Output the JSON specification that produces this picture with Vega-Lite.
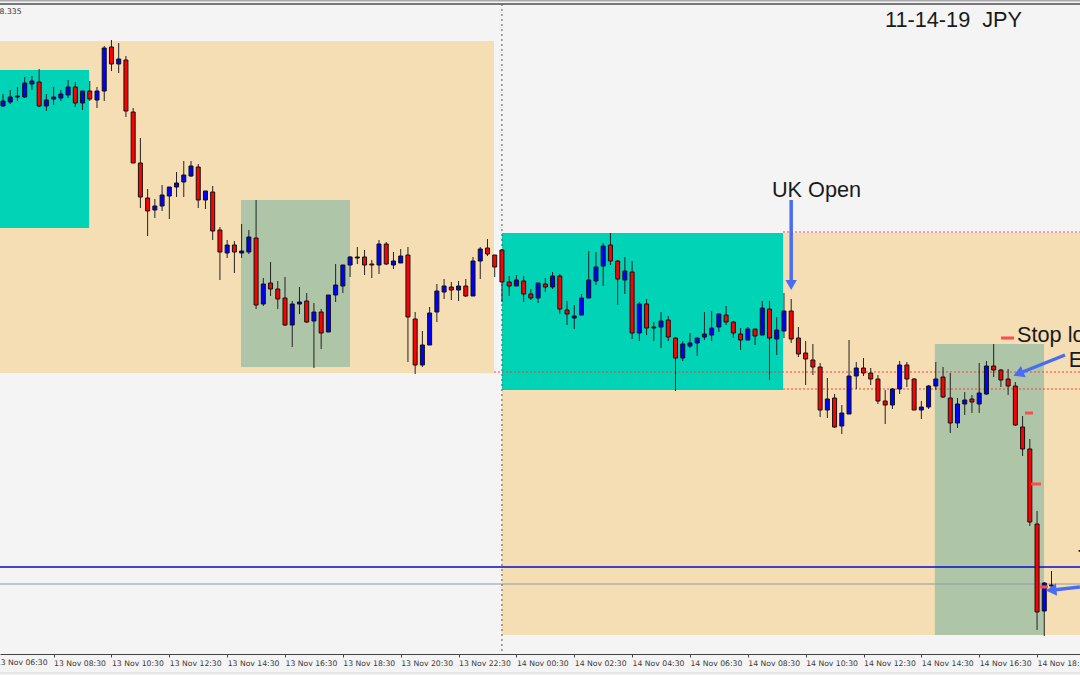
{
  "$schema": "https://vega.github.io/schema/vega-lite/v6.json",
  "width": 1080,
  "height": 654,
  "padding": {"left": 0, "top": 0, "right": 0, "bottom": 21},
  "autosize": {"type": "none"},
  "background": "#f4f4f4",
  "config": {"view": {"stroke": null}},
  "datasets": {
    "zones": [
      {"t1": "2019-11-13T06:00Z", "t2": "2019-11-13T23:43:30Z", "top": 108.959, "bottom": 108.627, "zone": "range"},
      {"t1": "2019-11-13T06:00Z", "t2": "2019-11-13T09:43:24Z", "top": 108.93, "bottom": 108.772, "zone": "asia"},
      {"t1": "2019-11-13T14:58:42Z", "t2": "2019-11-13T18:44:48Z", "top": 108.8, "bottom": 108.633, "zone": "ny"},
      {"t1": "2019-11-14T00:00:06Z", "t2": "2019-11-14T20:30Z", "top": 108.767, "bottom": 108.365, "zone": "range"},
      {"t1": "2019-11-14T00:00:06Z", "t2": "2019-11-14T09:43Z", "top": 108.767, "bottom": 108.61, "zone": "asia"},
      {"t1": "2019-11-14T14:58Z", "t2": "2019-11-14T18:44:30Z", "top": 108.656, "bottom": 108.365, "zone": "ny"}
    ],
    "levels": [
      {"t1": "2019-11-13T06:00Z", "t2": "2019-11-14T20:30Z", "p": 108.433, "kind": "blue"},
      {"t1": "2019-11-13T06:00Z", "t2": "2019-11-14T20:30Z", "p": 108.416, "kind": "gray"},
      {"t1": "2019-11-13T23:43:30Z", "t2": "2019-11-14T20:30Z", "p": 108.628, "kind": "red"},
      {"t1": "2019-11-14T09:43Z", "t2": "2019-11-14T20:30Z", "p": 108.611, "kind": "red"},
      {"t1": "2019-11-14T09:43Z", "t2": "2019-11-14T20:30Z", "p": 108.768, "kind": "red"},
      {"t1": "2019-11-13T06:00Z", "t2": "2019-11-14T20:30Z", "p": 108.9995, "kind": "frame1"},
      {"t1": "2019-11-13T06:00Z", "t2": "2019-11-14T20:30Z", "p": 108.996, "kind": "frame2"},
      {"t1": "2019-11-13T06:00Z", "t2": "2019-11-14T20:30Z", "p": 108.327, "kind": "frame3"}
    ],
    "stops": [
      {"t1": "2019-11-14T17:15:18Z", "t2": "2019-11-14T17:42:12Z", "p": 108.662},
      {"t1": "2019-11-14T18:05Z", "t2": "2019-11-14T18:21:36Z", "p": 108.587},
      {"t1": "2019-11-14T18:17:30Z", "t2": "2019-11-14T18:38:12Z", "p": 108.516},
      {"t1": "2019-11-14T18:36:12Z", "t2": "2019-11-14T18:52:42Z", "p": 108.413}
    ],
    "labels": [
      {"t": "2019-11-14T09:20Z", "p": 108.81, "text": "UK Open"},
      {"t": "2019-11-14T13:14:36Z", "p": 108.98, "text": "11-14-19\u00a0\u00a0JPY"},
      {"t": "2019-11-14T17:48:24Z", "p": 108.665, "text": "Stop loss"},
      {"t": "2019-11-14T19:36Z", "p": 108.64, "text": "Entry"},
      {"t": "2019-11-14T19:55Z", "p": 108.442, "text": "T"}
    ],
    "candles": [
      {"t":"2019-11-13T06:45Z","o":108.894,"h":108.906,"l":108.893,"c":108.899},
      {"t":"2019-11-13T07:00Z","o":108.898,"h":108.910,"l":108.896,"c":108.903},
      {"t":"2019-11-13T07:15Z","o":108.903,"h":108.913,"l":108.899,"c":108.904},
      {"t":"2019-11-13T07:30Z","o":108.903,"h":108.923,"l":108.902,"c":108.917},
      {"t":"2019-11-13T07:45Z","o":108.916,"h":108.924,"l":108.910,"c":108.919},
      {"t":"2019-11-13T08:00Z","o":108.918,"h":108.931,"l":108.893,"c":108.894},
      {"t":"2019-11-13T08:15Z","o":108.894,"h":108.906,"l":108.889,"c":108.900},
      {"t":"2019-11-13T08:30Z","o":108.901,"h":108.913,"l":108.895,"c":108.903},
      {"t":"2019-11-13T08:45Z","o":108.902,"h":108.910,"l":108.899,"c":108.906},
      {"t":"2019-11-13T09:00Z","o":108.905,"h":108.920,"l":108.902,"c":108.913},
      {"t":"2019-11-13T09:15Z","o":108.913,"h":108.918,"l":108.893,"c":108.897},
      {"t":"2019-11-13T09:30Z","o":108.897,"h":108.909,"l":108.890,"c":108.909},
      {"t":"2019-11-13T09:45Z","o":108.909,"h":108.919,"l":108.899,"c":108.901},
      {"t":"2019-11-13T10:00Z","o":108.900,"h":108.913,"l":108.892,"c":108.909},
      {"t":"2019-11-13T10:15Z","o":108.909,"h":108.954,"l":108.899,"c":108.952},
      {"t":"2019-11-13T10:30Z","o":108.953,"h":108.960,"l":108.929,"c":108.936},
      {"t":"2019-11-13T10:45Z","o":108.936,"h":108.957,"l":108.927,"c":108.941},
      {"t":"2019-11-13T11:00Z","o":108.940,"h":108.944,"l":108.883,"c":108.889},
      {"t":"2019-11-13T11:15Z","o":108.888,"h":108.892,"l":108.837,"c":108.837},
      {"t":"2019-11-13T11:30Z","o":108.837,"h":108.862,"l":108.792,"c":108.803},
      {"t":"2019-11-13T11:45Z","o":108.802,"h":108.811,"l":108.764,"c":108.789},
      {"t":"2019-11-13T12:00Z","o":108.790,"h":108.801,"l":108.782,"c":108.794},
      {"t":"2019-11-13T12:15Z","o":108.794,"h":108.815,"l":108.789,"c":108.805},
      {"t":"2019-11-13T12:30Z","o":108.804,"h":108.813,"l":108.781,"c":108.813},
      {"t":"2019-11-13T12:45Z","o":108.813,"h":108.828,"l":108.803,"c":108.817},
      {"t":"2019-11-13T13:00Z","o":108.818,"h":108.839,"l":108.803,"c":108.825},
      {"t":"2019-11-13T13:15Z","o":108.824,"h":108.839,"l":108.823,"c":108.834},
      {"t":"2019-11-13T13:30Z","o":108.833,"h":108.836,"l":108.792,"c":108.800},
      {"t":"2019-11-13T13:45Z","o":108.800,"h":108.809,"l":108.791,"c":108.809},
      {"t":"2019-11-13T14:00Z","o":108.808,"h":108.814,"l":108.760,"c":108.769},
      {"t":"2019-11-13T14:15Z","o":108.770,"h":108.773,"l":108.720,"c":108.748},
      {"t":"2019-11-13T14:30Z","o":108.747,"h":108.760,"l":108.742,"c":108.755},
      {"t":"2019-11-13T14:45Z","o":108.755,"h":108.759,"l":108.727,"c":108.748},
      {"t":"2019-11-13T15:00Z","o":108.747,"h":108.776,"l":108.742,"c":108.749},
      {"t":"2019-11-13T15:15Z","o":108.748,"h":108.770,"l":108.746,"c":108.763},
      {"t":"2019-11-13T15:30Z","o":108.762,"h":108.800,"l":108.691,"c":108.695},
      {"t":"2019-11-13T15:45Z","o":108.696,"h":108.722,"l":108.694,"c":108.716},
      {"t":"2019-11-13T16:00Z","o":108.717,"h":108.738,"l":108.704,"c":108.711},
      {"t":"2019-11-13T16:15Z","o":108.711,"h":108.719,"l":108.691,"c":108.701},
      {"t":"2019-11-13T16:30Z","o":108.702,"h":108.723,"l":108.674,"c":108.675},
      {"t":"2019-11-13T16:45Z","o":108.675,"h":108.699,"l":108.653,"c":108.696},
      {"t":"2019-11-13T17:00Z","o":108.696,"h":108.713,"l":108.686,"c":108.698},
      {"t":"2019-11-13T17:15Z","o":108.699,"h":108.707,"l":108.677,"c":108.678},
      {"t":"2019-11-13T17:30Z","o":108.679,"h":108.697,"l":108.632,"c":108.688},
      {"t":"2019-11-13T17:45Z","o":108.688,"h":108.691,"l":108.651,"c":108.667},
      {"t":"2019-11-13T18:00Z","o":108.668,"h":108.705,"l":108.668,"c":108.705},
      {"t":"2019-11-13T18:15Z","o":108.705,"h":108.736,"l":108.698,"c":108.715},
      {"t":"2019-11-13T18:30Z","o":108.714,"h":108.735,"l":108.707,"c":108.735},
      {"t":"2019-11-13T18:45Z","o":108.735,"h":108.744,"l":108.723,"c":108.743},
      {"t":"2019-11-13T19:00Z","o":108.742,"h":108.753,"l":108.736,"c":108.743},
      {"t":"2019-11-13T19:15Z","o":108.743,"h":108.750,"l":108.725,"c":108.735},
      {"t":"2019-11-13T19:30Z","o":108.736,"h":108.740,"l":108.722,"c":108.735},
      {"t":"2019-11-13T19:45Z","o":108.735,"h":108.760,"l":108.726,"c":108.756},
      {"t":"2019-11-13T20:00Z","o":108.756,"h":108.758,"l":108.735,"c":108.736},
      {"t":"2019-11-13T20:15Z","o":108.735,"h":108.748,"l":108.731,"c":108.739},
      {"t":"2019-11-13T20:30Z","o":108.737,"h":108.751,"l":108.737,"c":108.744},
      {"t":"2019-11-13T20:45Z","o":108.745,"h":108.753,"l":108.638,"c":108.683},
      {"t":"2019-11-13T21:00Z","o":108.681,"h":108.688,"l":108.626,"c":108.635},
      {"t":"2019-11-13T21:15Z","o":108.635,"h":108.669,"l":108.633,"c":108.655},
      {"t":"2019-11-13T21:30Z","o":108.655,"h":108.693,"l":108.655,"c":108.687},
      {"t":"2019-11-13T21:45Z","o":108.688,"h":108.716,"l":108.678,"c":108.709},
      {"t":"2019-11-13T22:00Z","o":108.708,"h":108.721,"l":108.701,"c":108.714},
      {"t":"2019-11-13T22:15Z","o":108.713,"h":108.718,"l":108.700,"c":108.710},
      {"t":"2019-11-13T22:30Z","o":108.710,"h":108.719,"l":108.699,"c":108.714},
      {"t":"2019-11-13T22:45Z","o":108.714,"h":108.721,"l":108.703,"c":108.704},
      {"t":"2019-11-13T23:00Z","o":108.704,"h":108.743,"l":108.704,"c":108.739},
      {"t":"2019-11-13T23:15Z","o":108.739,"h":108.753,"l":108.721,"c":108.751},
      {"t":"2019-11-13T23:30Z","o":108.752,"h":108.761,"l":108.744,"c":108.746},
      {"t":"2019-11-13T23:45Z","o":108.745,"h":108.745,"l":108.723,"c":108.733},
      {"t":"2019-11-14T00:00Z","o":108.750,"h":108.751,"l":108.698,"c":108.718},
      {"t":"2019-11-14T00:15Z","o":108.718,"h":108.724,"l":108.704,"c":108.714},
      {"t":"2019-11-14T00:30Z","o":108.714,"h":108.725,"l":108.714,"c":108.720},
      {"t":"2019-11-14T00:45Z","o":108.719,"h":108.724,"l":108.698,"c":108.706},
      {"t":"2019-11-14T01:00Z","o":108.706,"h":108.711,"l":108.700,"c":108.702},
      {"t":"2019-11-14T01:15Z","o":108.702,"h":108.717,"l":108.697,"c":108.717},
      {"t":"2019-11-14T01:30Z","o":108.716,"h":108.722,"l":108.708,"c":108.713},
      {"t":"2019-11-14T01:45Z","o":108.713,"h":108.728,"l":108.711,"c":108.724},
      {"t":"2019-11-14T02:00Z","o":108.724,"h":108.726,"l":108.686,"c":108.691},
      {"t":"2019-11-14T02:15Z","o":108.690,"h":108.699,"l":108.675,"c":108.686},
      {"t":"2019-11-14T02:30Z","o":108.682,"h":108.695,"l":108.671,"c":108.684},
      {"t":"2019-11-14T02:45Z","o":108.685,"h":108.706,"l":108.685,"c":108.702},
      {"t":"2019-11-14T03:00Z","o":108.702,"h":108.749,"l":108.702,"c":108.720},
      {"t":"2019-11-14T03:15Z","o":108.719,"h":108.748,"l":108.715,"c":108.733},
      {"t":"2019-11-14T03:30Z","o":108.734,"h":108.757,"l":108.714,"c":108.754},
      {"t":"2019-11-14T03:45Z","o":108.755,"h":108.767,"l":108.735,"c":108.739},
      {"t":"2019-11-14T04:00Z","o":108.739,"h":108.740,"l":108.695,"c":108.721},
      {"t":"2019-11-14T04:15Z","o":108.720,"h":108.743,"l":108.706,"c":108.729},
      {"t":"2019-11-14T04:30Z","o":108.728,"h":108.739,"l":108.661,"c":108.667},
      {"t":"2019-11-14T04:45Z","o":108.667,"h":108.698,"l":108.659,"c":108.696},
      {"t":"2019-11-14T05:00Z","o":108.696,"h":108.701,"l":108.665,"c":108.672},
      {"t":"2019-11-14T05:15Z","o":108.672,"h":108.678,"l":108.659,"c":108.673},
      {"t":"2019-11-14T05:30Z","o":108.673,"h":108.688,"l":108.652,"c":108.679},
      {"t":"2019-11-14T05:45Z","o":108.680,"h":108.684,"l":108.659,"c":108.663},
      {"t":"2019-11-14T06:00Z","o":108.662,"h":108.663,"l":108.609,"c":108.642},
      {"t":"2019-11-14T06:15Z","o":108.642,"h":108.659,"l":108.639,"c":108.656},
      {"t":"2019-11-14T06:30Z","o":108.654,"h":108.667,"l":108.652,"c":108.657},
      {"t":"2019-11-14T06:45Z","o":108.657,"h":108.663,"l":108.644,"c":108.662},
      {"t":"2019-11-14T07:00Z","o":108.663,"h":108.688,"l":108.660,"c":108.666},
      {"t":"2019-11-14T07:15Z","o":108.665,"h":108.689,"l":108.659,"c":108.672},
      {"t":"2019-11-14T07:30Z","o":108.673,"h":108.687,"l":108.668,"c":108.686},
      {"t":"2019-11-14T07:45Z","o":108.685,"h":108.694,"l":108.675,"c":108.678},
      {"t":"2019-11-14T08:00Z","o":108.678,"h":108.679,"l":108.662,"c":108.667},
      {"t":"2019-11-14T08:15Z","o":108.666,"h":108.672,"l":108.650,"c":108.660},
      {"t":"2019-11-14T08:30Z","o":108.660,"h":108.673,"l":108.660,"c":108.671},
      {"t":"2019-11-14T08:45Z","o":108.671,"h":108.671,"l":108.655,"c":108.664},
      {"t":"2019-11-14T09:00Z","o":108.665,"h":108.699,"l":108.665,"c":108.692},
      {"t":"2019-11-14T09:15Z","o":108.691,"h":108.699,"l":108.620,"c":108.662},
      {"t":"2019-11-14T09:30Z","o":108.661,"h":108.683,"l":108.645,"c":108.670},
      {"t":"2019-11-14T09:45Z","o":108.669,"h":108.707,"l":108.662,"c":108.689},
      {"t":"2019-11-14T10:00Z","o":108.689,"h":108.701,"l":108.657,"c":108.661},
      {"t":"2019-11-14T10:15Z","o":108.662,"h":108.673,"l":108.643,"c":108.646},
      {"t":"2019-11-14T10:30Z","o":108.647,"h":108.659,"l":108.615,"c":108.641},
      {"t":"2019-11-14T10:45Z","o":108.640,"h":108.656,"l":108.625,"c":108.633},
      {"t":"2019-11-14T11:00Z","o":108.633,"h":108.637,"l":108.583,"c":108.590},
      {"t":"2019-11-14T11:15Z","o":108.590,"h":108.622,"l":108.582,"c":108.601},
      {"t":"2019-11-14T11:30Z","o":108.602,"h":108.606,"l":108.572,"c":108.573},
      {"t":"2019-11-14T11:45Z","o":108.574,"h":108.595,"l":108.566,"c":108.587},
      {"t":"2019-11-14T12:00Z","o":108.586,"h":108.660,"l":108.586,"c":108.624},
      {"t":"2019-11-14T12:15Z","o":108.624,"h":108.638,"l":108.611,"c":108.632},
      {"t":"2019-11-14T12:30Z","o":108.632,"h":108.642,"l":108.624,"c":108.627},
      {"t":"2019-11-14T12:45Z","o":108.627,"h":108.632,"l":108.615,"c":108.621},
      {"t":"2019-11-14T13:00Z","o":108.621,"h":108.625,"l":108.596,"c":108.599},
      {"t":"2019-11-14T13:15Z","o":108.599,"h":108.610,"l":108.576,"c":108.595},
      {"t":"2019-11-14T13:30Z","o":108.595,"h":108.612,"l":108.591,"c":108.611},
      {"t":"2019-11-14T13:45Z","o":108.611,"h":108.639,"l":108.606,"c":108.635},
      {"t":"2019-11-14T14:00Z","o":108.635,"h":108.638,"l":108.613,"c":108.621},
      {"t":"2019-11-14T14:15Z","o":108.621,"h":108.622,"l":108.590,"c":108.590},
      {"t":"2019-11-14T14:30Z","o":108.590,"h":108.599,"l":108.581,"c":108.593},
      {"t":"2019-11-14T14:45Z","o":108.593,"h":108.615,"l":108.591,"c":108.614},
      {"t":"2019-11-14T15:00Z","o":108.614,"h":108.638,"l":108.610,"c":108.621},
      {"t":"2019-11-14T15:15Z","o":108.623,"h":108.633,"l":108.602,"c":108.603},
      {"t":"2019-11-14T15:30Z","o":108.602,"h":108.627,"l":108.567,"c":108.577},
      {"t":"2019-11-14T15:45Z","o":108.577,"h":108.602,"l":108.572,"c":108.596},
      {"t":"2019-11-14T16:00Z","o":108.596,"h":108.608,"l":108.585,"c":108.600},
      {"t":"2019-11-14T16:15Z","o":108.601,"h":108.605,"l":108.587,"c":108.598},
      {"t":"2019-11-14T16:30Z","o":108.596,"h":108.637,"l":108.587,"c":108.607},
      {"t":"2019-11-14T16:45Z","o":108.606,"h":108.639,"l":108.605,"c":108.634},
      {"t":"2019-11-14T17:00Z","o":108.634,"h":108.656,"l":108.623,"c":108.630},
      {"t":"2019-11-14T17:15Z","o":108.630,"h":108.631,"l":108.613,"c":108.620},
      {"t":"2019-11-14T17:30Z","o":108.621,"h":108.631,"l":108.605,"c":108.614},
      {"t":"2019-11-14T17:45Z","o":108.614,"h":108.618,"l":108.574,"c":108.575},
      {"t":"2019-11-14T18:00Z","o":108.573,"h":108.584,"l":108.544,"c":108.551},
      {"t":"2019-11-14T18:15Z","o":108.551,"h":108.561,"l":108.474,"c":108.478},
      {"t":"2019-11-14T18:30Z","o":108.476,"h":108.489,"l":108.370,"c":108.388},
      {"t":"2019-11-14T18:45Z","o":108.389,"h":108.418,"l":108.364,"c":108.417},
      {"t":"2019-11-14T19:00Z","o":108.414,"h":108.429,"l":108.413,"c":108.415}
    ]
  },
  "layer": [
    {
      "data": {"name": "zones"},
      "mark": {"type": "rect"},
      "encoding": {
        "x": {
          "field": "t1",
          "type": "temporal",
          "scale": {"type": "utc", "nice": false, "padding": 0, "domain": ["2019-11-13T06:38:47Z", "2019-11-14T19:59:06Z"]},
          "axis": {
            "title": null,
            "values": ["2019-11-13T08:30Z","2019-11-13T10:30Z","2019-11-13T12:30Z","2019-11-13T14:30Z","2019-11-13T16:30Z","2019-11-13T18:30Z","2019-11-13T20:30Z","2019-11-13T22:30Z","2019-11-14T00:30Z","2019-11-14T02:30Z","2019-11-14T04:30Z","2019-11-14T06:30Z","2019-11-14T08:30Z","2019-11-14T10:30Z","2019-11-14T12:30Z","2019-11-14T14:30Z","2019-11-14T16:30Z","2019-11-14T18:30Z"],
            "labelExpr": "utcFormat(datum.value, '%d %b %H:%M')",
            "grid": false,
            "domainColor": "#444444",
            "tickColor": "#444444",
            "tickSize": 3,
            "labelAlign": "left",
            "labelBaseline": "middle",
            "labelPadding": 6,
            "labelDx": -1,
            "labelColor": "#3a3a3a",
            "labelFont": "DejaVu Sans",
            "labelFontSize": 7.7,
            "labelOverlap": false,
            "labelBound": false,
            "labelFlush": false
          }
        },
        "x2": {"field": "t2"},
        "y": {"field": "top", "type": "quantitative", "axis": null, "scale": {"domain": [108.346, 109], "nice": false, "zero": false}},
        "y2": {"field": "bottom"},
        "color": {
          "field": "zone",
          "type": "nominal",
          "legend": null,
          "scale": {"domain": ["range", "asia", "ny"], "range": ["#f5deb3", "#00d3b6", "#aec5a8"]}
        }
      }
    },
    {
      "data": {"name": "levels"},
      "transform": [{"filter": "datum.kind == 'blue'"}],
      "mark": {"type": "rule", "color": "#0a0acb", "strokeWidth": 1.5},
      "encoding": {
        "x": {"field": "t1", "type": "temporal"},
        "x2": {"field": "t2"},
        "y": {"field": "p", "type": "quantitative"}
      }
    },
    {
      "data": {"name": "levels"},
      "transform": [{"filter": "datum.kind == 'gray'"}],
      "mark": {"type": "rule", "color": "#8c9aa6", "strokeWidth": 1},
      "encoding": {
        "x": {"field": "t1", "type": "temporal"},
        "x2": {"field": "t2"},
        "y": {"field": "p", "type": "quantitative"}
      }
    },
    {
      "data": {"name": "levels"},
      "transform": [{"filter": "datum.kind == 'red'"}],
      "mark": {"type": "rule", "color": "#ff3c3c", "strokeWidth": 1.2, "strokeDash": [2, 2]},
      "encoding": {
        "x": {"field": "t1", "type": "temporal"},
        "x2": {"field": "t2"},
        "y": {"field": "p", "type": "quantitative"}
      }
    },
    {
      "data": {"name": "levels"},
      "transform": [{"filter": "datum.kind == 'frame1'"}],
      "mark": {"type": "rule", "color": "#a8a8a8", "strokeWidth": 2},
      "encoding": {
        "x": {"field": "t1", "type": "temporal"},
        "x2": {"field": "t2"},
        "y": {"field": "p", "type": "quantitative"}
      }
    },
    {
      "data": {"name": "levels"},
      "transform": [{"filter": "datum.kind == 'frame2'"}],
      "mark": {"type": "rule", "color": "#777777", "strokeWidth": 2},
      "encoding": {
        "x": {"field": "t1", "type": "temporal"},
        "x2": {"field": "t2"},
        "y": {"field": "p", "type": "quantitative"}
      }
    },
    {
      "data": {"name": "levels"},
      "transform": [{"filter": "datum.kind == 'frame3'"}],
      "mark": {"type": "rule", "color": "#e6e6e6", "strokeWidth": 2},
      "encoding": {
        "x": {"field": "t1", "type": "temporal"},
        "x2": {"field": "t2"},
        "y": {"field": "p", "type": "quantitative"}
      }
    },
    {
      "data": {"values": [{"t": "2019-11-14T00:00Z", "p1": 108.996, "p2": 108.346}]},
      "mark": {"type": "rule", "color": "#555555", "strokeWidth": 1, "strokeDash": [2, 3]},
      "encoding": {
        "x": {"field": "t", "type": "temporal"},
        "y": {"field": "p1", "type": "quantitative"},
        "y2": {"field": "p2"}
      }
    },
    {
      "data": {"name": "candles"},
      "mark": {"type": "rule", "color": "#222222", "strokeWidth": 1},
      "encoding": {
        "x": {"field": "t", "type": "temporal"},
        "y": {"field": "h", "type": "quantitative"},
        "y2": {"field": "l"}
      }
    },
    {
      "data": {"name": "candles"},
      "mark": {"type": "bar", "size": 4, "stroke": "#111111", "strokeWidth": 1},
      "encoding": {
        "x": {"field": "t", "type": "temporal"},
        "y": {"field": "o", "type": "quantitative"},
        "y2": {"field": "c"},
        "fill": {"condition": {"test": "datum.c > datum.o", "value": "#0000ff"}, "value": "#ff0000"}
      }
    },
    {
      "data": {"name": "stops"},
      "mark": {"type": "rule", "color": "#ff4d4d", "strokeWidth": 3},
      "encoding": {
        "x": {"field": "t1", "type": "temporal"},
        "x2": {"field": "t2"},
        "y": {"field": "p", "type": "quantitative"}
      }
    },
    {
      "data": {"values": [
        {"t1": "2019-11-14T10:00Z", "t2": "2019-11-14T10:00Z", "p1": 108.8, "p2": 108.716},
        {"t1": "2019-11-14T19:28Z", "t2": "2019-11-14T17:54:42Z", "p1": 108.645, "p2": 108.627},
        {"t1": "2019-11-14T19:59Z", "t2": "2019-11-14T19:03Z", "p1": 108.413, "p2": 108.41}
      ]},
      "mark": {"type": "rule", "color": "#4a6cf0", "strokeWidth": 3.5},
      "encoding": {
        "x": {"field": "t1", "type": "temporal"},
        "x2": {"field": "t2"},
        "y": {"field": "p1", "type": "quantitative"},
        "y2": {"field": "p2"}
      }
    },
    {
      "data": {"values": [{"t": "2019-11-14T10:00Z", "p": 108.715}]},
      "mark": {"type": "point", "shape": "triangle-down", "filled": true, "opacity": 1, "color": "#4a6cf0", "size": 130},
      "encoding": {
        "x": {"field": "t", "type": "temporal"},
        "y": {"field": "p", "type": "quantitative"}
      }
    },
    {
      "data": {"values": [{"t": "2019-11-14T17:54:42Z", "p": 108.627}]},
      "mark": {"type": "point", "shape": "triangle", "angle": 247, "filled": true, "opacity": 1, "color": "#4a6cf0", "size": 150},
      "encoding": {
        "x": {"field": "t", "type": "temporal"},
        "y": {"field": "p", "type": "quantitative"}
      }
    },
    {
      "data": {"values": [{"t": "2019-11-14T19:03Z", "p": 108.41}]},
      "mark": {"type": "point", "shape": "triangle", "angle": 265, "filled": true, "opacity": 1, "color": "#4a6cf0", "size": 150},
      "encoding": {
        "x": {"field": "t", "type": "temporal"},
        "y": {"field": "p", "type": "quantitative"}
      }
    },
    {
      "data": {"name": "labels"},
      "mark": {"type": "text", "align": "left", "baseline": "middle", "font": "Liberation Sans", "fontSize": 21.7, "color": "#1a1a1a"},
      "encoding": {
        "x": {"field": "t", "type": "temporal"},
        "y": {"field": "p", "type": "quantitative"},
        "text": {"field": "text"}
      }
    },
    {
      "data": {"values": [{"t": "2019-11-13T07:23:30Z", "p": 108.988, "text": "108.335"}]},
      "mark": {"type": "text", "align": "right", "baseline": "middle", "font": "DejaVu Sans", "fontSize": 7.7, "color": "#333333"},
      "encoding": {
        "x": {"field": "t", "type": "temporal"},
        "y": {"field": "p", "type": "quantitative"},
        "text": {"field": "text"}
      }
    },
    {
      "data": {"values": [{"t": "2019-11-13T06:30Z", "p": 108.337, "text": "13 Nov 06:30"}]},
      "mark": {"type": "text", "align": "left", "baseline": "middle", "font": "DejaVu Sans", "fontSize": 7.7, "color": "#3a3a3a"},
      "encoding": {
        "x": {"field": "t", "type": "temporal"},
        "y": {"field": "p", "type": "quantitative"},
        "text": {"field": "text"}
      }
    }
  ]
}
